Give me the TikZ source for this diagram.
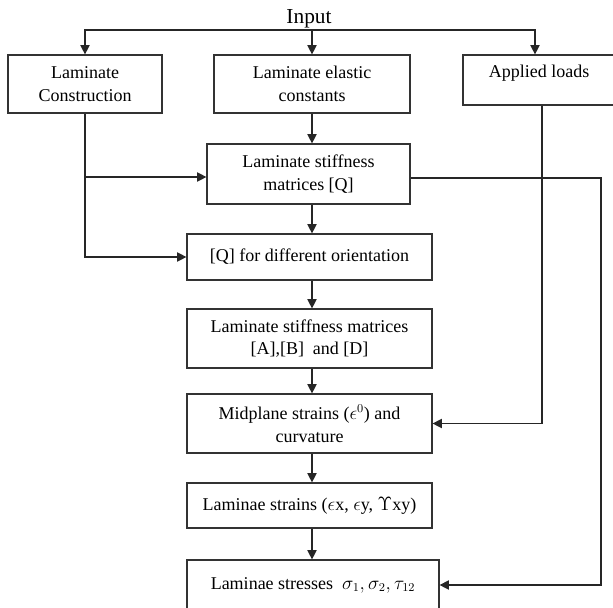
\documentclass[tikz,border=0pt]{standalone}
\usepackage{fontspec}
\setmainfont{Liberation Serif}
\usetikzlibrary{arrows.meta,calc}

\tikzset{
  box/.style={draw=black!80, line width=0.9pt, align=center, inner sep=2pt,
    font=\fontsize{13.5}{17}\selectfont},
  arr/.style={draw=black!85, line width=0.9pt, -{Triangle[length=7pt,width=7pt]}},
}

\begin{document}
\begin{tikzpicture}[x=0.75pt,y=-0.75pt]
\clip (0,0) rectangle (613,607);
% top row
\node[font=\fontsize{16}{19}\selectfont, inner sep=1pt, anchor=south] (input) at (309,30) {Input};
\node[box, minimum width=115.5pt, minimum height=43.5pt] (cons) at (85,84) {Laminate\\Construction};
\node[box, minimum width=147pt, minimum height=43.5pt] (elastic) at (312,84) {Laminate elastic\\constants};
\node[box, minimum width=114pt, minimum height=37.5pt] (loads) at (539,80) {};
\node[font=\fontsize{13.5}{17}\selectfont] (loadstxt) at (539,73) {Applied loads};
% middle column
\node[box, minimum width=152.25pt, minimum height=45pt] (stiffQ) at (308.5,174) {Laminate stiffness\\matrices [Q]};
\node[box, minimum width=183.75pt, minimum height=34.5pt] (orient) at (309.5,257) {[Q] for different orientation};
\node[box, minimum width=183.75pt, minimum height=44.25pt] (ABD) at (309.5,338.5) {Laminate stiffness matrices\\{}[A],[B]\ \ and [D]};
\node[box, minimum width=183.75pt, minimum height=44.25pt] (mid) at (309.5,423.5) {Midplane strains ($\epsilon^0$) and\\curvature};
\node[box, minimum width=183.75pt, minimum height=33.75pt] (strains) at (309.5,505.5) {Laminae strains ($\epsilon$x, $\epsilon$y, $\Upsilon$xy)};
\node[box, minimum width=189pt, minimum height=37.5pt] (stress) at (313,585) {Laminae stresses\ \ $\sigma_1, \sigma_2, \tau_{12}$};
\coordinate (qin) at (0,177);
\coordinate (qout) at (601,178);

% input split
\draw[arr] (input.south) -| (cons.north);
\draw[arr] (input.south) -| ($(loads.north)+(-4,0)$);
\draw[arr] (elastic.north |- input.south) -- (elastic.north);
% down the column
\draw[arr] (elastic.south) -- (elastic.south |- stiffQ.north);
\draw[arr] (elastic.south |- stiffQ.south) -- (elastic.south |- orient.north);
\draw[arr] (elastic.south |- orient.south) -- (elastic.south |- ABD.north);
\draw[arr] (elastic.south |- ABD.south) -- (elastic.south |- mid.north);
\draw[arr] (elastic.south |- mid.south) -- (elastic.south |- strains.north);
\draw[arr] (elastic.south |- strains.south) -- (elastic.south |- stress.north);
% side feeds
\draw[arr] (cons.south) |- (orient.west);
\draw[arr] (cons.south |- qin) -- (stiffQ.west |- qin);
\draw[arr] ($(loads.south)+(3,0)$) |- (mid.east);
\draw[arr] (stiffQ.east |- qout) -- (qout) |- (stress.east);
\end{tikzpicture}
\end{document}
